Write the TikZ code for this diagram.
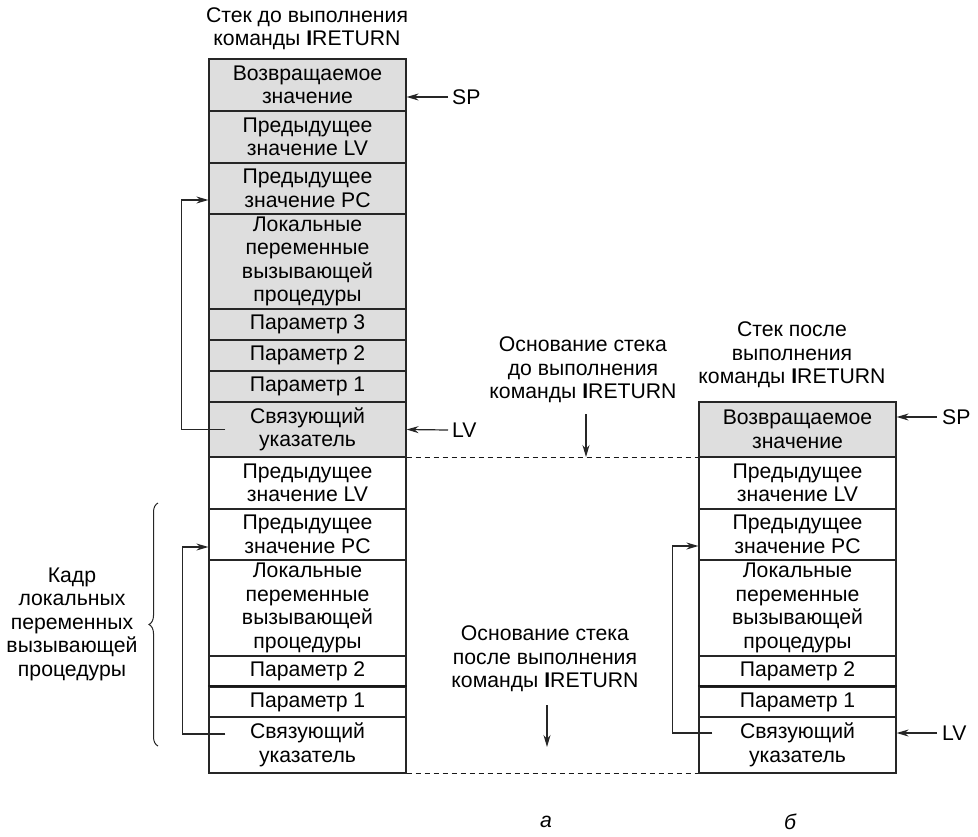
\documentclass[tikz,border=0pt]{standalone}
\usepackage{fontspec}
\setmainfont{Liberation Sans}
\usetikzlibrary{arrows.meta,decorations.pathreplacing,calc}
\newcommand{\IR}{\textbf{I}RETURN}
\begin{document}
\begin{tikzpicture}[x=1pt,y=-1pt,
  every node/.style={font=\fontsize{21.2}{23.5}\selectfont, align=center, inner sep=0pt},
  cell/.style={draw=black!85, line width=1.2pt, minimum width=197pt},
  gcell/.style={cell, fill=black!13},
  ptr/.style={draw=black!85, line width=1.2pt, -{Stealth[length=12pt,width=7pt]}},
  lnk/.style={draw=black!85, line width=1.2pt, -{Stealth[length=12pt,width=7pt]}},
  dsh/.style={draw=black!90, line width=1.3pt, dash pattern=on 5.5pt off 3.5pt}
]
\useasboundingbox (0,0) rectangle (978,836);

% ---------- left stack ----------
\node[gcell, minimum height=52pt] (a1) at (307.5,85) {Возвращаемое\\значение};
\node[gcell, minimum height=52pt] (a2) at (307.5,137) {Предыдущее\\значение LV};
\node[gcell, minimum height=51pt] (a3) at (307.5,188.5) {Предыдущее\\значение PC};
\node[gcell, minimum height=95pt] (a4) at (307.5,261.5) {Локальные\\переменные\\вызывающей\\процедуры};
\node[gcell, minimum height=31pt] (a5) at (307.5,324.5) {Параметр 3};
\node[gcell, minimum height=31pt] (a6) at (307.5,355.5) {Параметр 2};
\node[gcell, minimum height=31pt] (a7) at (307.5,386.5) {Параметр 1};
\node[gcell, minimum height=55pt] (a8) at (307.5,429.5) {Связующий\\указатель};
\node[cell, minimum height=52pt] (a9) at (307.5,483) {Предыдущее\\значение LV};
\node[cell, minimum height=51pt] (a10) at (307.5,534.5) {Предыдущее\\значение PC};
\node[cell, minimum height=96pt] (a11) at (307.5,608) {Локальные\\переменные\\вызывающей\\процедуры};
\node[cell, minimum height=31pt] (a12) at (307.5,671.5) {Параметр 2};
\node[cell, minimum height=30pt] (a13) at (307.5,702) {Параметр 1};
\node[cell, minimum height=56pt] (a14) at (307.5,745) {Связующий\\указатель};
\draw[line width=2pt, black!90] (a13.north west) -- (a13.north east);

% ---------- right stack ----------
\node[gcell, minimum height=55pt] (b1) at (797.5,429.5) {Возвращаемое\\значение};
\node[cell, minimum height=52pt] (b2) at (797.5,483) {Предыдущее\\значение LV};
\node[cell, minimum height=51pt] (b3) at (797.5,534.5) {Предыдущее\\значение PC};
\node[cell, minimum height=96pt] (b4) at (797.5,608) {Локальные\\переменные\\вызывающей\\процедуры};
\node[cell, minimum height=31pt] (b5) at (797.5,671.5) {Параметр 2};
\node[cell, minimum height=30pt] (b6) at (797.5,702) {Параметр 1};
\node[cell, minimum height=56pt] (b7) at (797.5,745) {Связующий\\указатель};
\draw[line width=2pt, black!90] (b6.north west) -- (b6.north east);

% ---------- titles ----------
\node (t1) at (307,28.5) {Стек до выполнения\\команды \IR};
\node (t2) at (792,355) {Стек после\\выполнения\\команды \IR};
\node (m1) at (583,370) {Основание стека\\до выполнения\\команды \IR};
\node (m2) at (545,659) {Основание стека\\после выполнения\\команды \IR};
\node (fr) at (72,624) {Кадр\\локальных\\переменных\\вызывающей\\процедуры};
\node[font=\fontsize{21.2}{23.5}\selectfont\itshape] (la) at (546,822) {а};
\node[font=\fontsize{21.2}{23.5}\selectfont\itshape] (lb) at (790,822) {б};

% ---------- SP / LV pointers ----------
\node[anchor=west] (sp1) at (452,97) {SP};
\node[anchor=west] (lv1) at (452,430) {LV};
\node[anchor=west] (sp2) at (942,417) {SP};
\node[anchor=west] (lv2) at (942,733) {LV};
\draw[ptr] ([xshift=-4pt]sp1.west) -- ([yshift=-12pt]a1.east);
\draw[ptr] ([xshift=-4pt]lv1.west) -- (a8.east);
\draw[ptr] ([xshift=-5pt]sp2.west) -- ([yshift=12.5pt]b1.east);
\draw[ptr] ([xshift=-5pt]lv2.west) -- ([yshift=12pt]b7.east);

% ---------- dashed base lines ----------
\draw[dsh] (a8.south east) -- (b1.south west);
\draw[dsh] (a14.south east) -- (b7.south west);
\coordinate (d1) at (586,457);
\coordinate (d2) at (547,747);
\coordinate (d1s) at (586,414);
\coordinate (d2s) at (547,705);
\draw[ptr] (d1s) -- (d1);
\draw[ptr] (d2s) -- (d2);

% ---------- link pointers ----------
\draw[lnk] ([xshift=17pt]a8.west) -- ++(-44,0) |- ([yshift=-11.5pt]a3.west);
\draw[lnk] ([xshift=17pt,yshift=11pt]a14.west) -- ++(-43,0) |- ([yshift=-12.5pt]a10.west);
\draw[lnk] ([xshift=14pt,yshift=12pt]b7.west) -- ++(-40,0) |- ([yshift=-11.5pt]b3.west);

% ---------- brace ----------
\draw[black!85, line width=1pt, decorate, decoration={brace, amplitude=9pt}] (158,746) -- (158,503);
\end{tikzpicture}
\end{document}
